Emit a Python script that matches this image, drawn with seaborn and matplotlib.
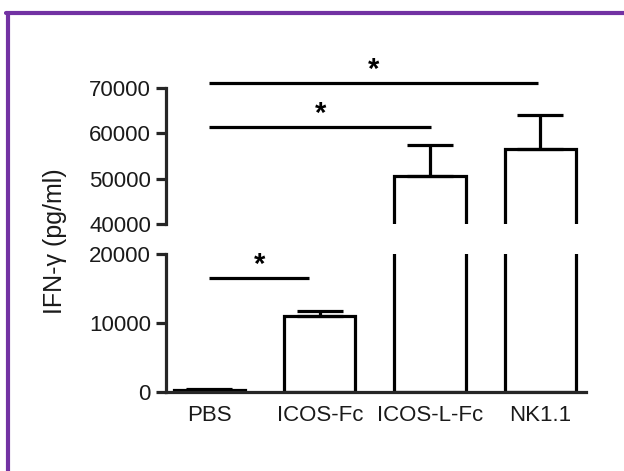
import numpy as np
import pandas as pd
import seaborn as sns
import matplotlib
matplotlib.use("Agg")
import matplotlib.pyplot as plt
from matplotlib.lines import Line2D

groups = ["PBS", "ICOS-Fc", "ICOS-L-Fc", "NK1.1"]
ifng_mean = [300, 11000, 50500, 56500]
ifng_sem = [150, 800, 7000, 7500]

# significance brackets: (start, end, height in pg/ml)
sig_top = [(0, 2.98, 71100), (0, 2.01, 61400)]
sig_bottom = [(0, 0.9, 16500)]

df = pd.DataFrame({"group": groups, "ifng": ifng_mean})

sns.set_style("ticks")
plt.rcParams["font.family"] = ["Liberation Sans", "DejaVu Sans"]
plt.rcParams["text.color"] = "#1a1a1a"

lw = 2.3
fig = plt.figure(figsize=(6.24, 4.71), dpi=100)
ax_top = fig.add_axes([0.2668, 0.5244, 0.6723, 0.3652])
ax_bot = fig.add_axes([0.2668, 0.1677, 0.6723, 0.2930])

for ax in (ax_top, ax_bot):
    sns.barplot(data=df, x="group", y="ifng", ax=ax, color="white",
                edgecolor="black", linewidth=lw, errorbar=None, width=0.645)
    ax.errorbar(range(len(groups)), ifng_mean,
                yerr=[np.zeros(len(groups)), ifng_sem], fmt="none",
                ecolor="black", elinewidth=lw, capsize=16.5, capthick=lw)
    ax.set_xlim(-0.39, 3.414)
    ax.set_xlabel("")
    ax.set_ylabel("")
    for s in ("top", "right"):
        ax.spines[s].set_visible(False)
    for s in ("left", "bottom"):
        ax.spines[s].set_linewidth(lw)
    ax.tick_params(axis="y", length=7.2, width=lw, labelsize=16,
                   labelcolor="#1a1a1a", pad=4)

ax_top.set_ylim(40000, 78000)
ax_top.set_yticks([40000, 50000, 60000, 70000])
ax_top.spines["left"].set_bounds(40000, 70000)
ax_top.spines["bottom"].set_visible(False)
ax_top.tick_params(axis="x", bottom=False, labelbottom=False)

ax_bot.set_ylim(0, 20000)
ax_bot.set_yticks([0, 10000, 20000])
ax_bot.tick_params(axis="x", length=0, labelsize=16, labelcolor="#1a1a1a", pad=9.5)

for ax, sigs in ((ax_top, sig_top), (ax_bot, sig_bottom)):
    for x0, x1, h in sigs:
        ax.plot([x0, x1], [h, h], color="black", lw=lw, solid_capstyle="butt",
                clip_on=False)
        ax.annotate("*", xy=((x0 + x1) / 2, h), xytext=(0, 3.5),
                    textcoords="offset points", ha="center", va="baseline",
                    fontsize=21, fontweight="bold", color="black",
                    annotation_clip=False)

fig.text(0.088, 0.488, "IFN-\u03b3 (pg/ml)", rotation=90, ha="center",
         va="center", fontsize=18)

# purple frame on the left and top
purple = "#7232a3"
fig.add_artist(Line2D([8 / 624, 8 / 624], [0, 1 - 13 / 471], color=purple,
                      lw=3, transform=fig.transFigure))
fig.add_artist(Line2D([6 / 624, 1], [1 - 13 / 471, 1 - 13 / 471], color=purple,
                      lw=3, transform=fig.transFigure))

fig.savefig("out.png", dpi=100)
